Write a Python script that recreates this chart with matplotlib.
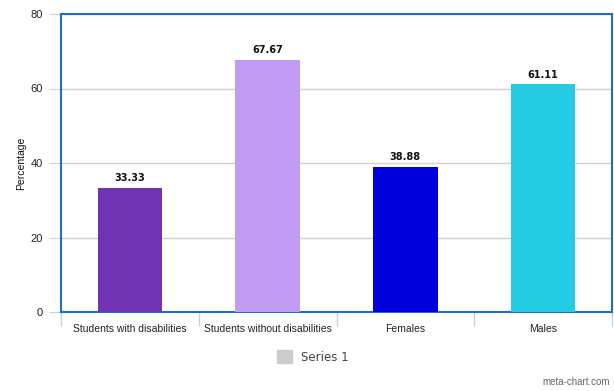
import matplotlib.pyplot as plt
from matplotlib.patches import Patch

plt.rcParams["font.family"] = ["Liberation Sans", "DejaVu Sans"]

categories = ["Students with disabilities", "Students without disabilities", "Females", "Males"]
values = [33.33, 67.67, 38.88, 61.11]
colors = ["#6f33b3", "#c09cf3", "#0000dd", "#25cbe3"]
yticks = [0, 20, 40, 60, 80]

fig = plt.figure(figsize=(6.14, 3.91), dpi=100)
ax = fig.add_axes([61 / 614, 79 / 391, 551 / 614, 298 / 391])

x = range(len(categories))
bars = ax.bar(x, values, width=0.47, color=colors, zorder=3)
for b, v in zip(bars, values):
    ax.text(b.get_x() + b.get_width() / 2, v + 1.3, f"{v:.2f}", ha="center", va="bottom",
            family="DejaVu Sans", fontsize=7, fontweight="bold", color="#111111")

ax.set_xlim(-0.5, len(categories) - 0.5)
ax.set_ylim(0, 80)
ax.set_yticks(yticks)
ax.yaxis.grid(True, color="#d0d0d0", linewidth=1, zorder=0)

# category labels centred, tick marks at the dividers
ax.set_xticks(list(x))
ax.set_xticklabels(categories, fontsize=7.5, color="#222222")
ax.tick_params(axis="x", length=0, pad=9)
ax.set_xticks([i - 0.5 for i in range(len(categories) + 1)], minor=True)
ax.tick_params(axis="x", which="minor", length=10, color="#c0d0e8", width=1)
ax.tick_params(axis="y", length=9, color="#c0d0e8", labelsize=8, labelcolor="#222222", pad=4)

for s in ax.spines.values():
    s.set_color("#1f6fc0")
    s.set_linewidth(1.5)

ax.set_ylabel("Percentage", fontsize=7.5, color="#111111", labelpad=3)

fig.legend(handles=[Patch(color="#cccccc", label="Series 1")], loc="center",
           bbox_to_anchor=(313 / 614, 1 - 357 / 391), frameon=False,
           prop={"family": "DejaVu Sans", "size": 8.5},
           handlelength=1.2, handleheight=1.2, labelcolor="#444444")
fig.text(610 / 614, 1 - 382 / 391, "meta-chart.com", ha="right", va="center",
         fontsize=7, color="#666666")

fig.savefig("out.png", dpi=100)
